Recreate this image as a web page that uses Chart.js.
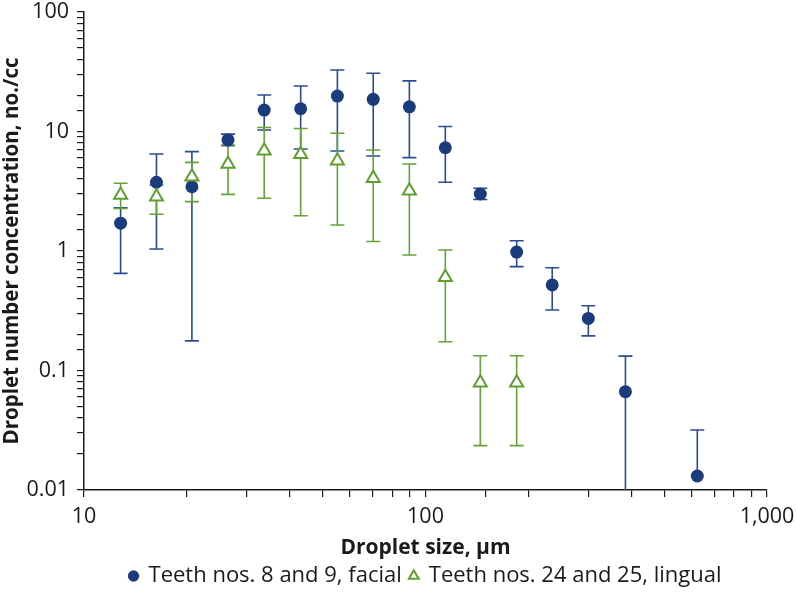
<!DOCTYPE html>
<html>
<head>
<meta charset="utf-8">
<script src="https://cdn.jsdelivr.net/npm/chart.js"></script>
<style>
  html, body { margin: 0; padding: 0; background: #fff; }
  #wrap { width: 796px; height: 594px; }
</style>
</head>
<body>
<div id="wrap"><canvas id="dropletChart"></canvas></div>
<script>
// droplet size bins (µm)
var sizes = [12.8, 16.3, 20.7, 26.4, 33.7, 43.1, 55.2, 70.3, 89.7, 114.3, 144.7, 184.9, 235, 299.8, 385, 625];

// Teeth nos. 8 and 9, facial
var facial     = [1.71, 3.76, 3.45, 8.5, 15.1, 15.5, 19.8, 18.6, 16.1, 7.31, 3.0, 0.98, 0.52, 0.273, 0.0665, 0.0131];
var facialHigh = [2.3, 6.49, 6.78, 9.5, 20.2, 24.0, 32.7, 30.7, 26.5, 11.0, 3.35, 1.22, 0.725, 0.348, 0.132, 0.0318];
var facialLow  = [0.65, 1.04, 0.177, 7.6, 10.3, 7.14, 6.87, 6.24, 6.04, 3.76, 2.7, 0.74, 0.321, 0.195, 0.01, null];

// Teeth nos. 24 and 25, lingual
var lingualSizes = [12.8, 16.3, 20.7, 26.4, 33.7, 43.1, 55.2, 70.3, 89.7, 114.3, 144.7, 184.9];
var lingual     = [2.94, 2.84, 4.19, 5.35, 6.9, 6.44, 5.7, 4.06, 3.2, 0.603, 0.079, 0.079];
var lingualHigh = [3.69, 3.57, 5.52, 7.7, 10.8, 10.6, 9.66, 7.0, 5.35, 1.02, 0.133, 0.133];
var lingualLow  = [2.27, 2.03, 2.59, 2.98, 2.76, 1.97, 1.65, 1.2, 0.926, 0.174, 0.0235, 0.0235];

var xLabels = { 10: '10', 100: '100', 1000: '1,000' };
var yLabels = { '-2': '0.01', '-1': '0.1', '0': '1', '1': '10', '2': '100' };

function toPoints(xs, ys) {
    return ys.map(function (y, i) { return { x: xs[i], y: y }; });
}

function isDecade(v) {
    var l = Math.log10(v);
    return Math.abs(l - Math.round(l)) < 1e-9;
}

var errorBars = {
    id: 'errorBars',
    beforeDatasetsDraw: function (chart) {
        var ctx = chart.ctx;
        var area = chart.chartArea;
        var xs = chart.scales.x, ys = chart.scales.y;
        ctx.save();
        ctx.beginPath();
        ctx.rect(area.left, area.top - 2, area.right - area.left, area.bottom - area.top + 2);
        ctx.clip();
        chart.data.datasets.forEach(function (ds) {
            ctx.strokeStyle = ds.errColor;
            ctx.lineWidth = 1.6;
            ds.data.forEach(function (p, i) {
                var px = xs.getPixelForValue(p.x);
                var py = ys.getPixelForValue(p.y);
                var hi = ds.errHigh[i], lo = ds.errLow[i];
                var cap = 7;
                ctx.beginPath();
                if (hi != null) {
                    var hy = ys.getPixelForValue(hi);
                    ctx.moveTo(px, py); ctx.lineTo(px, hy);
                    ctx.moveTo(px - cap, hy); ctx.lineTo(px + cap, hy);
                }
                if (lo != null) {
                    var ly = ys.getPixelForValue(lo);
                    ctx.moveTo(px, py); ctx.lineTo(px, ly);
                    if (ly < area.bottom - 1) {
                        ctx.moveTo(px - cap, ly); ctx.lineTo(px + cap, ly);
                    }
                }
                ctx.stroke();
            });
        });
        ctx.restore();
    }
};

var font = 'Open Sans';
var ctx = document.getElementById('dropletChart').getContext('2d');
var dropletChart = new Chart(ctx, {
    type: 'scatter',
    data: {
        datasets: [{
            label: 'Teeth nos. 8 and 9, facial',
            data: toPoints(sizes, facial),
            errHigh: facialHigh,
            errLow: facialLow,
            errColor: '#2b4c93',
            pointStyle: 'circle',
            pointRadius: 6.5,
            pointBackgroundColor: '#1a3b7c',
            pointBorderColor: '#1a3b7c',
            pointBorderWidth: 0,
            order: 2
        }, {
            label: 'Teeth nos. 24 and 25, lingual',
            data: toPoints(lingualSizes, lingual),
            errHigh: lingualHigh,
            errLow: lingualLow,
            errColor: '#64a437',
            pointStyle: 'triangle',
            pointRadius: 7.5,
            pointBackgroundColor: '#ffffff',
            pointBorderColor: '#5e9f2f',
            pointBorderWidth: 2,
            order: 1
        }]
    },
    options: {
        responsive: true,
        maintainAspectRatio: false,
        animation: { duration: 0 },
        layout: { padding: { top: 12, right: 29, left: 0, bottom: 0 } },
        plugins: {
            tooltip: { enabled: false },
            legend: {
                position: 'bottom',
                fullSize: false,
                maxHeight: 37,
                labels: {
                    usePointStyle: true,
                    boxWidth: 8,
                    boxHeight: 8,
                    padding: 8,
                    color: '#1a1a1a',
                    font: { family: font, size: 22 },
                    sort: function (a, b) { return a.datasetIndex - b.datasetIndex; }
                }
            }
        },
        scales: {
            x: {
                type: 'logarithmic',
                min: 10,
                max: 1000,
                border: { color: '#1a1a1a', width: 1.5 },
                grid: { drawOnChartArea: false, tickLength: 7, color: '#1a1a1a', lineWidth: 1.2 },
                ticks: {
                    autoSkip: false,
                    maxRotation: 0,
                    padding: 7,
                    color: '#1a1a1a',
                    font: { family: font, size: 21.5 },
                    callback: function (v) { return isDecade(v) ? xLabels[Math.round(v)] : ''; }
                },
                title: {
                    display: true,
                    text: 'Droplet size, µm',
                    color: '#1a1a1a',
                    font: { family: font, size: 21, weight: 'bold' },
                    padding: { top: 3, bottom: -4 }
                },
                afterFit: function (scale) {
                    scale.height = 67;
                    scale.paddingLeft = 0;
                    scale.paddingRight = 0;
                }
            },
            y: {
                type: 'logarithmic',
                min: 0.01,
                max: 100,
                border: { color: '#1a1a1a', width: 1.5 },
                grid: { drawOnChartArea: false, tickLength: 7, color: '#1a1a1a', lineWidth: 1.2 },
                ticks: {
                    autoSkip: false,
                    padding: 8,
                    color: '#1a1a1a',
                    font: { family: font, size: 21.5 },
                    callback: function (v) { return isDecade(v) ? yLabels[String(Math.round(Math.log10(v)))] : ''; }
                },
                title: {
                    display: true,
                    text: 'Droplet number concentration, no./cc',
                    color: '#1a1a1a',
                    font: { family: font, size: 20.5, weight: 'bold' },
                    padding: { top: 0, bottom: 2 }
                },
                afterFit: function (scale) {
                    scale.width = 84;
                    scale.paddingTop = 0;
                    scale.paddingBottom = 0;
                }
            }
        }
    },
    plugins: [errorBars]
});
</script>
</body>
</html>
